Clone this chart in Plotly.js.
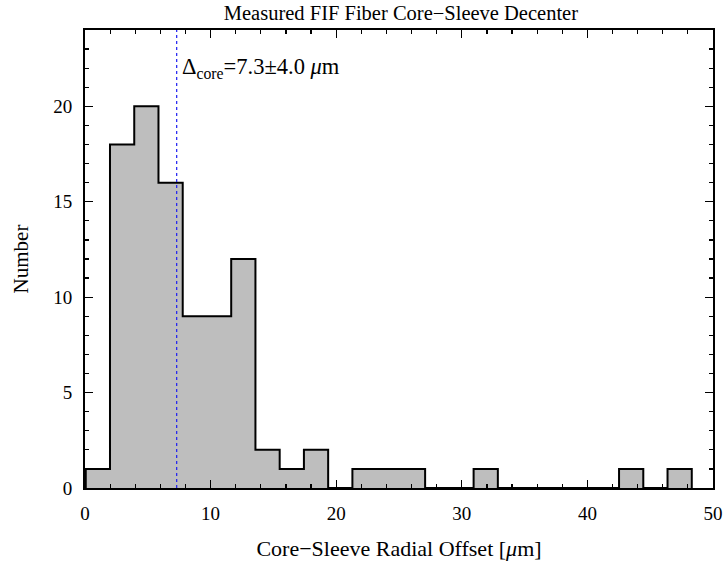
<!DOCTYPE html>
<html>
<head>
<meta charset="utf-8">
<script src="https://cdn.plot.ly/plotly-3.0.1.min.js"></script>
<style>body{margin:0;background:#fff}#plot{width:725px;height:561px}</style>
</head>
<body>
<div id="plot"></div>
<script>
// Histogram: 25 bins from binStart with width binWidth
var binStart = 0.06;
var binWidth = 1.93;
var counts = [1, 18, 20, 16, 9, 9, 12, 2, 1, 2, 0, 1, 1, 1, 0, 0, 1, 0, 0, 0, 0, 0, 1, 0, 1];
var meanOffset = 7.3;
var sigmaOffset = 4.0;
var xTickVals = [0, 10, 20, 30, 40, 50];
var yTickVals = [0, 5, 10, 15, 20];

var sx = [binStart], sy = [0];
for (var i = 0; i < counts.length; i++) {
  sx.push(binStart + i * binWidth);
  sy.push(counts[i]);
}
sx.push(binStart + counts.length * binWidth); sy.push(counts[counts.length - 1]);
sx.push(binStart + counts.length * binWidth); sy.push(0);

var font = {family: '"Liberation Serif", "DejaVu Serif", serif', color: '#000'};
function f(s) { return Object.assign({size: s}, font); }

var traces = [
  {x: sx, y: sy, type: 'scatter', mode: 'lines', line: {shape: 'hv', color: '#000', width: 2},
   fill: 'tozeroy', fillcolor: '#bebebe', hoverinfo: 'skip', showlegend: false},
  {x: [meanOffset, meanOffset], y: [0, 24], type: 'scatter', mode: 'lines',
   line: {color: '#1c1cf0', width: 1.2, dash: 'dot'}, showlegend: false}
];

var layout = {
  width: 725, height: 561,
  margin: {l: 85, r: 12, t: 30, b: 73},
  paper_bgcolor: '#fff', plot_bgcolor: '#fff',
  font: f(19),
  title: {text: 'Measured FIF Fiber Core\u2212Sleeve Decenter', font: f(20.5),
          x: 0.553, xanchor: 'center', y: 0.977, yanchor: 'middle'},
  xaxis: {range: [0, 50], tickvals: xTickVals, ticks: 'inside', ticklen: 8, tickwidth: 1.2, tickcolor: '#000',
          showline: true, linecolor: '#000', linewidth: 2, mirror: 'allticks', showgrid: false, zeroline: false,
          minor: {dtick: 2, ticks: 'inside', ticklen: 4, tickwidth: 1.2, tickcolor: '#000', showgrid: false},
          tickfont: f(19), ticklabelstandoff: 7,
          title: {text: 'Core\u2212Sleeve Radial Offset [<i>\u03bc</i>m]', font: f(22), standoff: 19}},
  yaxis: {range: [0, 24], tickvals: yTickVals, ticks: 'inside', ticklen: 8, tickwidth: 1.2, tickcolor: '#000',
          showline: true, linecolor: '#000', linewidth: 2, mirror: 'allticks', showgrid: false, zeroline: false,
          minor: {dtick: 1, ticks: 'inside', ticklen: 4, tickwidth: 1.2, tickcolor: '#000', showgrid: false},
          tickfont: f(19), ticklabelstandoff: 7,
          title: {text: 'Number', font: f(21), standoff: 19}},
  annotations: [{x: meanOffset, y: 22, xref: 'x', yref: 'y', xanchor: 'left', yanchor: 'middle', xshift: 3,
                 showarrow: false, font: f(22.5),
                 text: '\u0394<sub>core</sub>=' + meanOffset.toFixed(1) + '\u00b1' + sigmaOffset.toFixed(1) + ' <i>\u03bc</i>m'}]
};

Plotly.newPlot('plot', traces, layout, {displayModeBar: false, staticPlot: true});
</script>
</body>
</html>
